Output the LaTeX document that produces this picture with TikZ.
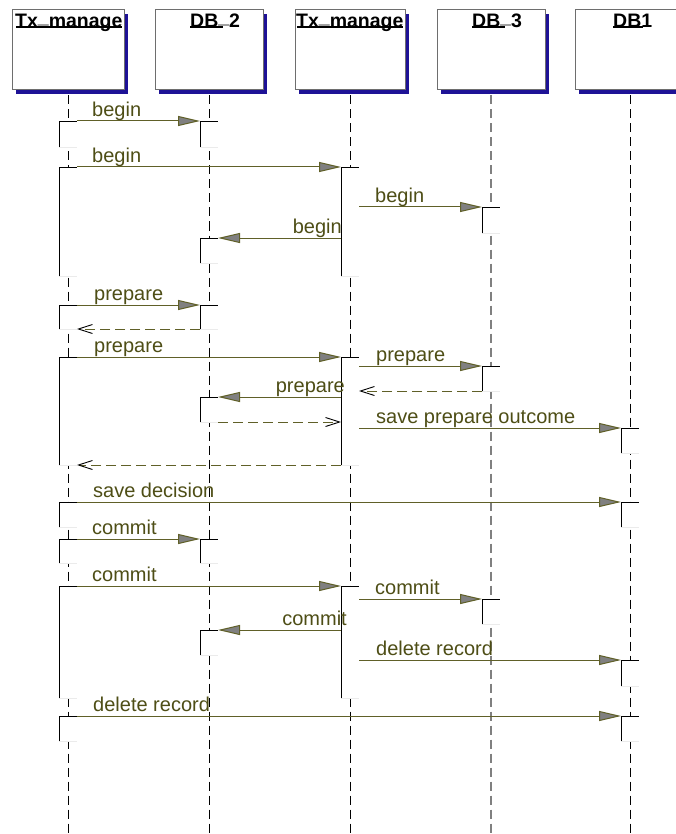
\documentclass[tikz,border=0pt]{standalone}
\usepackage{fontspec}
\setmainfont{Liberation Sans}
\usetikzlibrary{arrows.meta,shadows}

\definecolor{msgtext}{RGB}{78,78,22}
\definecolor{msgline}{RGB}{96,96,40}
\definecolor{headgray}{RGB}{128,128,128}
\definecolor{shadowblue}{RGB}{30,18,150}
\definecolor{boxedge}{RGB}{110,110,110}

% activation bar: name, lifeline x, top y, bottom y
\newcommand\actbar[4]{%
  \node[act, minimum height={(#4-#3)*1pt}] (#1) at (#2,{(#3+#4)/2}) {};}
% faint lower edge and dark upper/left edges of a bar
\newcommand\actedges[1]{%
  \draw[actshade] (#1.south west) -- (#1.south east);
  \draw[actedge] (#1.south west) |- (#1.north east);}

\begin{document}
\begin{tikzpicture}[x=1pt,y=-1pt,
  hbox/.style={rectangle, draw=boxedge, line width=1pt, fill=white,
    minimum height=80pt, inner sep=0pt,
    drop shadow={shadow xshift=3.5pt, shadow yshift=-4.5pt, fill=shadowblue, opacity=1}},
  htext/.style={font=\fontsize{19.5}{22}\selectfont\bfseries, text=black,
    inner sep=0pt, anchor=base west},
  uline/.style={line width=1.1pt, black},
  lifeline/.style={line width=1pt, dash pattern=on 9pt off 5pt},
  act/.style={rectangle, fill=white, draw=none, minimum width=18pt,
    inner sep=0pt, outer sep=0pt},
  actedge/.style={line width=0.9pt, black},
  actshade/.style={line width=0.8pt, black!8},
  msg/.style={draw=msgline, line width=1pt,
    -{Triangle[length=22pt,width=10pt,fill=headgray]}},
  reply/.style={draw=msgline, line width=1pt, dash pattern=on 10pt off 5pt,
    -{Straight Barb[length=14pt,width=9pt,color=black,line width=0.9pt]}},
  lbl/.style={font=\fontsize{20}{24}\selectfont, text=msgtext, inner sep=0pt},
  lblr/.style={lbl, anchor=base west},
  lbll/.style={lbl, anchor=base east},
]
\clip (0,0) rectangle (676,834);
\fill[white] (0,0) rectangle (676,834);
\coordinate (bottom) at (0,834);

% participant heads
\node[hbox, minimum width=112pt] (h1) at (68,50) {};
\node[hbox, minimum width=108pt] (h2) at (209,50) {};
\node[hbox, minimum width=110pt] (h3) at (350,50) {};
\node[hbox, minimum width=108pt] (h4) at (491,50) {};
\node[hbox, minimum width=110pt] (h5) at (630,50) {};

\node[htext] (t1) at (15,28) {Tx\raisebox{4pt}{\_}manage};
\node[htext] (t2) at (190,28) {DB\raisebox{4pt}{\_}2};
\node[htext] (t3) at (296,28) {Tx\raisebox{4pt}{\_}manage};
\node[htext] (t4) at (472,28) {DB\raisebox{4pt}{\_}3};
\node[htext] (t5) at (613,28) {DB1};
\draw[uline] (16,27) -- (122,27);
\draw[uline] (190,27) -- (223,27);
\draw[uline] (297,27) -- (403,27);
\draw[uline] (472,27) -- (505,27);
\draw[uline] (613,27) -- (643,27);

% lifelines, starting below the head shadows
\draw[lifeline] ([yshift=-5pt]h1.south) -- (h1.south |- bottom);
\draw[lifeline] ([yshift=-5pt]h2.south) -- (h2.south |- bottom);
\draw[lifeline] ([yshift=-5pt]h3.south) -- (h3.south |- bottom);
\draw[lifeline, draw=headgray, line width=1.3pt] ([yshift=-5pt]h4.south) -- (h4.south |- bottom);
\draw[lifeline] ([yshift=-5pt]h5.south) -- (h5.south |- bottom);

% activation bars
\actbar{a1s}{68}{121}{147}  \actbar{a1t}{209}{121}{147}
\actbar{a2s}{68}{167}{276}  \actbar{a2t}{350}{167}{276}
\actbar{a3t}{491}{207}{233}
\actbar{a4t}{209}{238}{263}
\actbar{a5s}{68}{305}{329}  \actbar{a5t}{209}{305}{329}
\actbar{a6s}{68}{357}{465}  \actbar{a6t}{350}{357}{465}
\actbar{a7t}{491}{366}{391}
\actbar{a8t}{209}{397}{422}
\actbar{a9t}{630}{428}{453}
\actbar{a10s}{68}{502}{527} \actbar{a10t}{630}{502}{527}
\actbar{a11s}{68}{539}{563} \actbar{a11t}{209}{539}{563}
\actbar{a12s}{68}{586}{698} \actbar{a12t}{350}{586}{698}
\actbar{a13t}{491}{599}{624}
\actbar{a14t}{209}{630}{655}
\actbar{a15t}{630}{660}{686}
\actbar{a16s}{68}{716}{741} \actbar{a16t}{630}{716}{741}
\foreach \n in {a1s,a1t,a2s,a2t,a3t,a4t,a5s,a5t,a6s,a6t,a7t,a8t,a9t,
  a10s,a10t,a11s,a11t,a12s,a12t,a13t,a14t,a15t,a16s,a16t}{\actedges{\n}}

% messages
\draw[msg] (a1s.north east) -- (a1t.north west);
\draw[msg] (a2s.north east) -- (a2t.north west);
\draw[msg] (a2t.east |- a3t.north) -- (a3t.north west);
\draw[msg] (a2t.west |- a4t.north) -- (a4t.north east);
\draw[msg] (a5s.north east) -- (a5t.north west);
\draw[reply] (a5t.south west) -- (a5s.south east);
\draw[msg] (a6s.north east) -- (a6t.north west);
\draw[msg] (a6t.east |- a7t.north) -- (a7t.north west);
\draw[reply] (a7t.south west) -- (a6t.east |- a7t.south);
\draw[msg] (a6t.west |- a8t.north) -- (a8t.north east);
\draw[reply] (a8t.south east) -- (a6t.west |- a8t.south);
\draw[msg] (a6t.east |- a9t.north) -- (a9t.north west);
\draw[reply] (a6t.south west) -- (a6s.south east);
\draw[msg] (a10s.north east) -- (a10t.north west);
\draw[msg] (a11s.north east) -- (a11t.north west);
\draw[msg] (a12s.north east) -- (a12t.north west);
\draw[msg] (a12t.east |- a13t.north) -- (a13t.north west);
\draw[msg] (a12t.west |- a14t.north) -- (a14t.north east);
\draw[msg] (a12t.east |- a15t.north) -- (a15t.north west);
\draw[msg] (a16s.north east) -- (a16t.north west);

% message labels
\node[lblr] (l1)  at (92,116.5)  {begin};
\node[lblr] (l2)  at (92,162.5)  {begin};
\node[lblr] (l3)  at (375,202.5) {begin};
\node[lbll] (l4)  at (342,233.5) {begin};
\node[lblr] (l5)  at (94,300.5)  {prepare};
\node[lblr] (l6)  at (94,352.5)  {prepare};
\node[lblr] (l7)  at (376,361.5) {prepare};
\node[lbll] (l8)  at (345,392.5) {prepare};
\node[lblr] (l9)  at (376,423.5) {save prepare outcome};
\node[lblr] (l10) at (93,497.5)  {save decision};
\node[lblr] (l11) at (92,534.5)  {commit};
\node[lblr] (l12) at (92,581.5)  {commit};
\node[lblr] (l13) at (375,594.5) {commit};
\node[lbll] (l14) at (347,625.5) {commit};
\node[lblr] (l15) at (376,655.5) {delete record};
\node[lblr] (l16) at (93,711.5)  {delete record};
\end{tikzpicture}
\end{document}
